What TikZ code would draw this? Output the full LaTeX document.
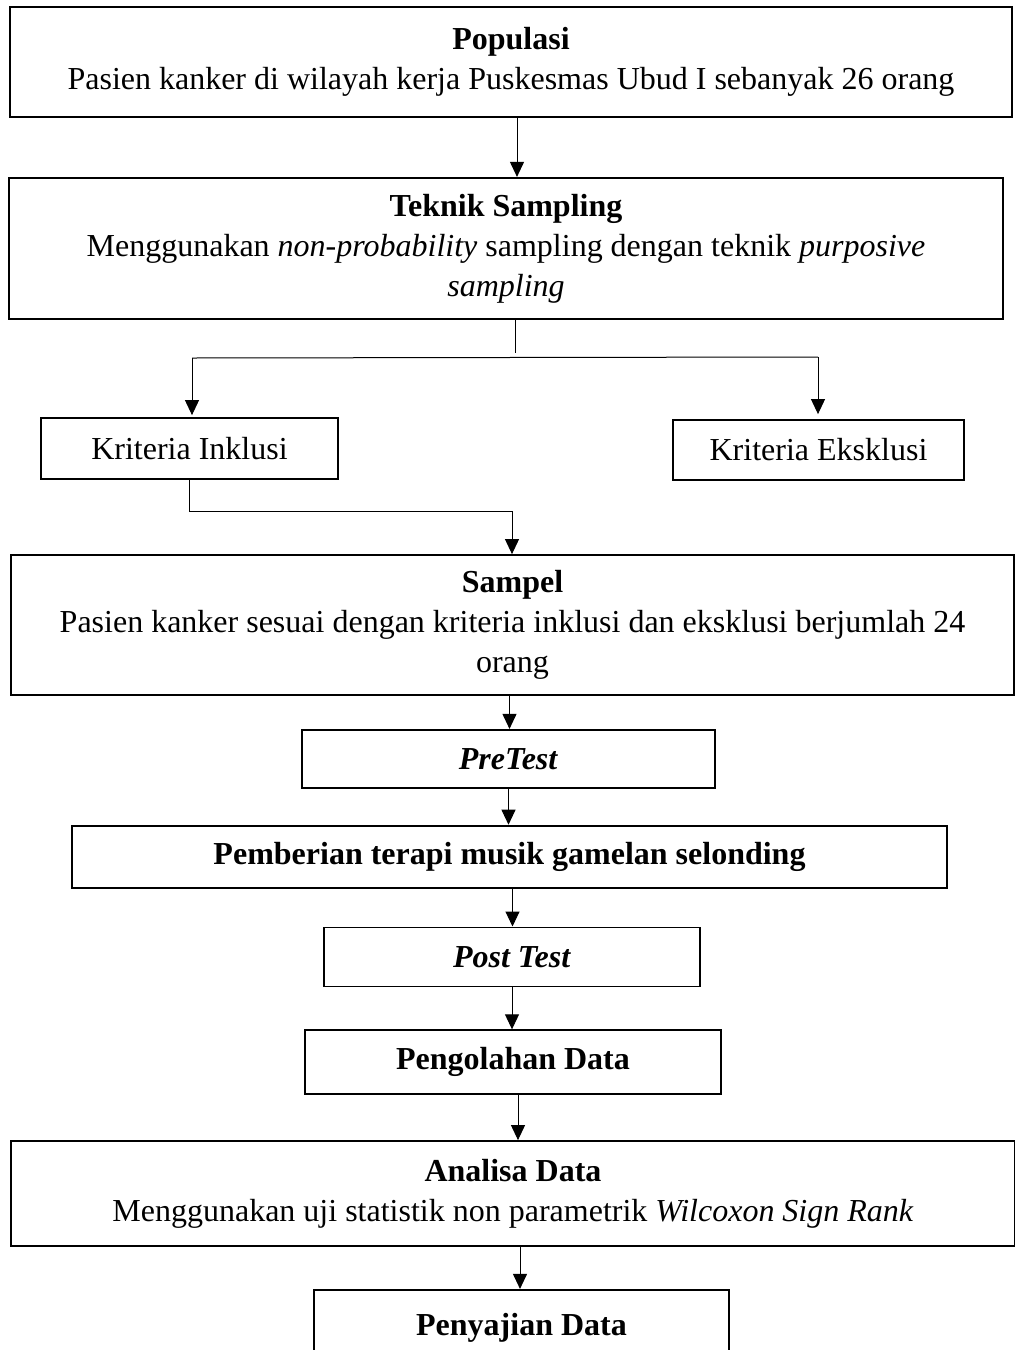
\documentclass[tikz,border=0pt]{standalone}
\usepackage{fontspec}
\setmainfont{Liberation Serif}
\usepackage{tikz}
\usetikzlibrary{arrows.meta, positioning}
\newcommand{\boxfont}{\fontsize{32}{40}\selectfont}
\tikzset{
  flowbox/.style={draw, line width=1.8pt, align=center, inner sep=0pt, font=\boxfont},
  conn/.style={line width=1pt},
  arr/.style={line width=1pt, -{Triangle[width=14pt,length=15pt]}}
}

\begin{document}
\begin{tikzpicture}[x=1pt, y=-1pt]
    \useasboundingbox (0,0) rectangle (1015,1350);
    \clip (0,0) rectangle (1015,1350);
    % main column
    \node[flowbox, minimum width=1002pt, minimum height=110pt] (pop) at (511,62) {
      \textbf{Populasi}\\
      Pasien kanker di wilayah kerja Puskesmas Ubud I sebanyak 26 orang
    };
    \node[flowbox, minimum width=994pt, minimum height=141pt,
          below=59pt of pop, xshift=-5pt] (teknik) {
      \textbf{Teknik Sampling}\\
      Menggunakan \textit{non-probability} sampling dengan teknik \textit{purposive}\\
      \textit{sampling}
    };
    \node[flowbox, minimum width=297pt, minimum height=61pt] (inklusi) at (189.5,448.5) {Kriteria Inklusi};
    \node[flowbox, minimum width=291pt, minimum height=60pt] (eksklusi) at (818.5,450) {Kriteria Eksklusi};
    \node[flowbox, minimum width=1003pt, minimum height=140pt] (sampel) at (512.5,625) {
      \textbf{Sampel}\\
      Pasien kanker sesuai dengan kriteria inklusi dan eksklusi berjumlah 24\\
      orang
    };
    \node[flowbox, minimum width=413pt, minimum height=58pt,
          below=33pt of sampel, xshift=-4pt] (pretest) {\textbf{\textit{PreTest}}};
    \node[flowbox, minimum width=875pt, minimum height=62pt,
          below=36pt of pretest, xshift=1pt] (terapi) {\textbf{Pemberian terapi musik gamelan selonding}};
    \node[flowbox, minimum width=376pt, minimum height=59pt,
          below=38pt of terapi, xshift=2.5pt] (posttest) {\textbf{\textit{Post Test}}};
    \node[flowbox, minimum width=416pt, minimum height=64pt,
          below=42pt of posttest, xshift=1pt] (olah) {\textbf{Pengolahan Data}};
    \node[flowbox, minimum width=1004pt, minimum height=105pt,
          below=45pt of olah] (analisa) {
      \textbf{Analisa Data}\\
      Menggunakan uji statistik non parametrik \textit{Wilcoxon Sign Rank}
    };
    \node[flowbox, minimum width=415pt, minimum height=76pt,
          below=42pt of analisa, xshift=8.5pt] (saji) {\textbf{Penyajian Data}};

    % branch to the criteria
    \coordinate (tsplit) at (515,353);
    \coordinate (tleft) at (192,358);
    \coordinate (tright) at (818,357);
    \coordinate (ijoin) at (512,511);
    \draw[arr] ([xshift=6pt]pop.south) -- ([xshift=6pt]pop.south |- teknik.north);
    \draw[conn] (tsplit |- teknik.south) -- (tsplit);
    \draw[conn] (tleft) -- (tright);
    \draw[arr, shorten >=2pt] (tleft) -- (tleft |- inklusi.north);
    \draw[arr, shorten >=5pt] (tright) -- (tright |- eksklusi.north);
    \draw[arr] (inklusi.south) |- (ijoin) -- (ijoin |- sampel.north);

    % rest of the flow
    \draw[arr] ([xshift=-3pt]sampel.south) -- ([xshift=-3pt]sampel.south |- pretest.north);
    \draw[arr] (pretest.south) -- (pretest.south |- terapi.north);
    \draw[arr] ([xshift=3pt]terapi.south) -- ([xshift=3pt]terapi.south |- posttest.north);
    \draw[arr] (posttest.south) -- (posttest.south |- olah.north);
    \draw[arr] ([xshift=5pt]olah.south) -- ([xshift=5pt]olah.south |- analisa.north);
    \draw[arr] ([xshift=7pt]analisa.south) -- ([xshift=7pt]analisa.south |- saji.north);
\end{tikzpicture}
\end{document}
